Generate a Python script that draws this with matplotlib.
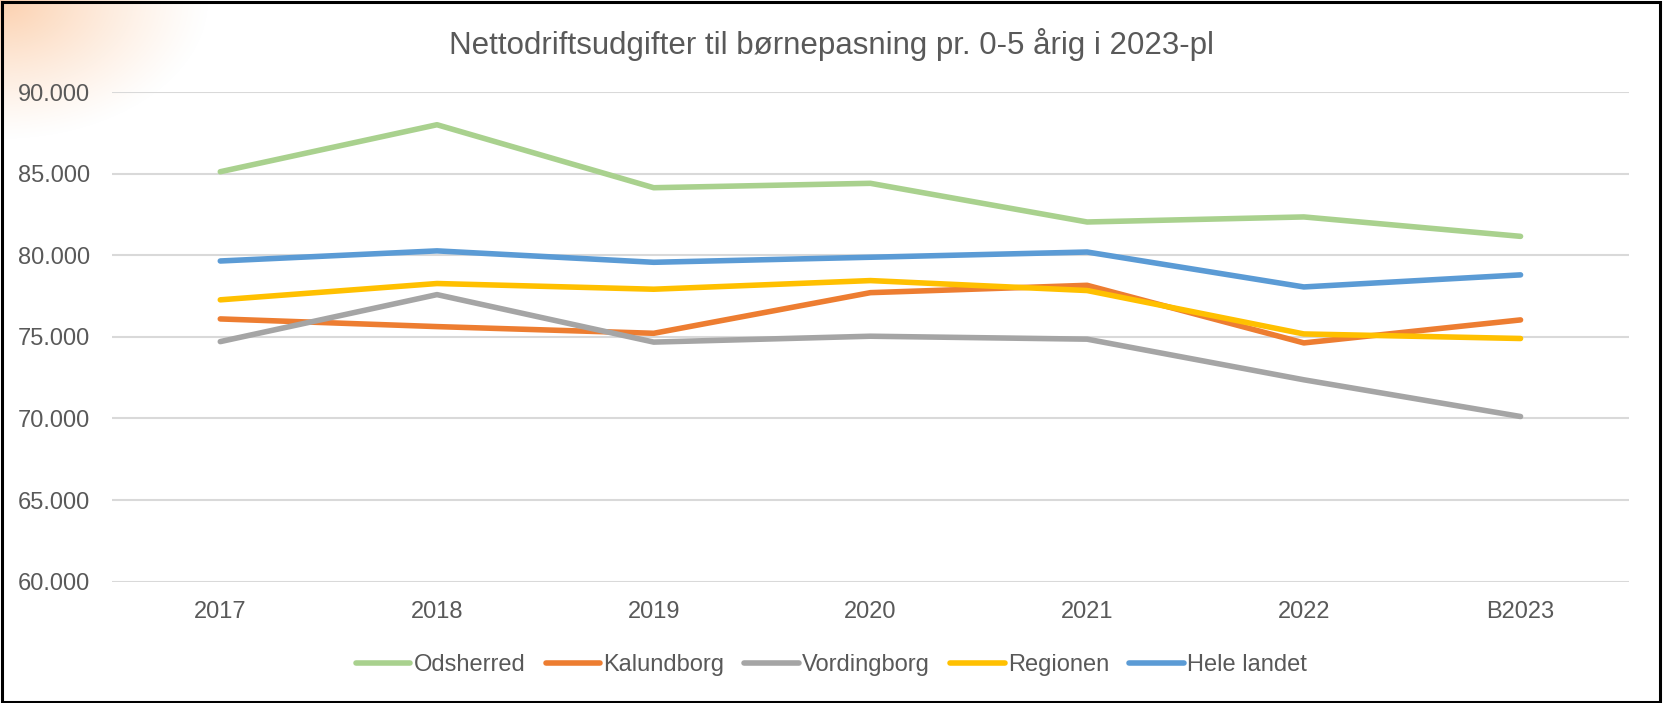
import numpy as np
import matplotlib.pyplot as plt
from matplotlib.ticker import FuncFormatter
from matplotlib.patches import Rectangle

plt.rcParams['font.family'] = ['Liberation Sans', 'DejaVu Sans']

years = ['2017', '2018', '2019', '2020', '2021', '2022', 'B2023']
odsherred = [85120, 88000, 84140, 84410, 82040, 82350, 81160]
kalundborg = [76100, 75630, 75220, 77710, 78160, 74630, 76040]
vordingborg = [74710, 77590, 74680, 75040, 74860, 72370, 70120]
regionen = [77270, 78270, 77920, 78450, 77840, 75180, 74900]
hele_landet = [79650, 80270, 79570, 79880, 80200, 78060, 78800]

series = [
    ('Odsherred', odsherred, '#A9D18E'),
    ('Kalundborg', kalundborg, '#ED7D31'),
    ('Vordingborg', vordingborg, '#A5A5A5'),
    ('Regionen', regionen, '#FFC000'),
    ('Hele landet', hele_landet, '#5B9BD5'),
]

text_col = '#595959'

fig = plt.figure(figsize=(16.63, 7.03), dpi=100)

# soft peach glow in the top left corner
bg = fig.add_axes([0, 0, 1, 1], zorder=-10)
gx, gy = np.meshgrid(np.arange(1663), np.arange(703))
r = np.sqrt((gx / 210.0) ** 2 + (gy / 140.0) ** 2)
a = np.clip(1 - r, 0, 1) ** 1.2 * 0.85
img = np.ones((703, 1663, 4))
img[..., 0] = 251 / 255
img[..., 1] = 200 / 255
img[..., 2] = 160 / 255
img[..., 3] = a
bg.imshow(img, extent=[0, 1, 0, 1], aspect='auto', origin='upper')
bg.set_xlim(0, 1)
bg.set_ylim(0, 1)
bg.axis('off')

ax = fig.add_axes([0.0673, 0.1726, 0.9122, 0.6964])
ax.patch.set_alpha(0)
x = np.arange(len(years))
for name, vals, col in series:
    ax.plot(x, vals, color=col, lw=4, label=name, solid_capstyle='round', zorder=3)

ax.set_xlim(-0.5, len(years) - 0.5)
ax.set_ylim(60000, 90000)
ax.set_yticks(np.arange(60000, 90001, 5000))
ax.yaxis.set_major_formatter(FuncFormatter(lambda v, p: f'{int(v):,}'.replace(',', '.')))
ax.set_xticks(x)
ax.set_xticklabels(years)
ax.grid(axis='y', color='#D9D9D9', lw=1.5, zorder=0)
ax.set_axisbelow(True)
for s in ax.spines.values():
    s.set_visible(False)
ax.tick_params(axis='both', length=0, labelsize=17, labelcolor=text_col)
ax.tick_params(axis='y', pad=16)
ax.tick_params(axis='x', pad=14)

fig.text(0.5, 0.937, 'Nettodriftsudgifter til børnepasning pr. 0-5 årig i 2023-pl',
         ha='center', va='center', fontsize=22.5, color=text_col)

leg = fig.legend(loc='center', bbox_to_anchor=(0.5, 0.054), ncol=5, frameon=False,
                 fontsize=17, handlelength=2.3, handletextpad=0.15, columnspacing=0.85)
for t in leg.get_texts():
    t.set_color(text_col)

fig.patches.append(Rectangle((0.001, 0.002), 0.997, 0.995, transform=fig.transFigure,
                             fill=False, edgecolor='black', lw=2.2))

fig.savefig('out.png', dpi=100)
